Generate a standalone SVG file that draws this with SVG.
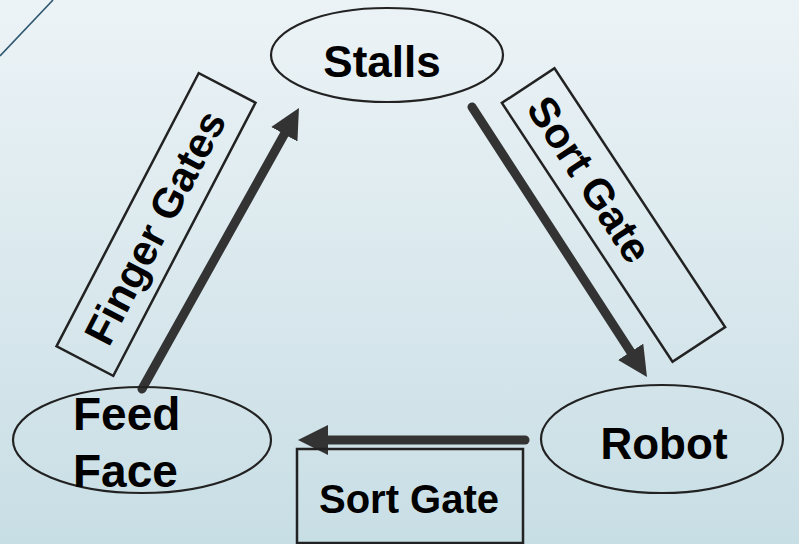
<svg xmlns="http://www.w3.org/2000/svg" width="799" height="544" viewBox="0 0 799 544">
<defs>
<linearGradient id="bg" x1="0" y1="0" x2="0" y2="1">
<stop offset="0" stop-color="#ecf3f6"/>
<stop offset="1" stop-color="#c8dee5"/>
</linearGradient>
<marker id="ah" markerUnits="userSpaceOnUse" markerWidth="30" markerHeight="30" viewBox="0 0 30 30" refX="10" refY="15" orient="auto">
<path d="M0,0 L30,15 L0,30 Z" fill="#333333"/>
</marker>
<style>
.node{fill:none;stroke:#222222;stroke-width:2.2}
.box{fill:none;stroke:#222222;stroke-width:2.5}
.lbl{font-family:"Liberation Sans",Arial,sans-serif;font-weight:bold;fill:#000000}
.conn{stroke:#333333;stroke-width:9;stroke-linecap:round;fill:none;marker-end:url(#ah)}
</style>
</defs>
<rect x="0" y="0" width="799" height="544" fill="url(#bg)"/>
<line x1="0" y1="56" x2="53" y2="0" stroke="#2e5670" stroke-width="1.6"/>

<g id="connectors">
<line class="conn" x1="142" y1="389" x2="289.2" y2="125.5"/>
<line class="conn" x1="472" y1="107" x2="636.1" y2="360.2"/>
<line class="conn" x1="525" y1="440" x2="318" y2="440"/>
</g>

<g id="label-finger-gates" transform="translate(156,224.5) rotate(-62.5)">
<rect class="box" x="-154" y="-32" width="308" height="64"/>
<text class="lbl" x="-3" y="15" font-size="42" text-anchor="middle">Finger Gates</text>
</g>
<g id="label-sort-gate-diag" transform="translate(613.5,215) rotate(56.6)">
<rect class="box" x="-155" y="-31.5" width="310" height="63"/>
<text class="lbl" x="-43" y="15" font-size="42" text-anchor="middle">Sort Gate</text>
</g>
<g id="label-sort-gate-bottom">
<rect class="box" x="297" y="449" width="226" height="94"/>
<text class="lbl" x="409" y="513" font-size="40" text-anchor="middle">Sort Gate</text>
</g>

<g id="node-stalls">
<ellipse class="node" cx="387" cy="55" rx="116" ry="47"/>
<text class="lbl" x="382" y="77" font-size="44" text-anchor="middle">Stalls</text>
</g>
<g id="node-robot">
<ellipse class="node" cx="662" cy="439" rx="121" ry="54"/>
<text class="lbl" x="664" y="459" font-size="44" text-anchor="middle">Robot</text>
</g>
<g id="node-feed-face">
<ellipse class="node" cx="142" cy="440" rx="129" ry="53"/>
<text class="lbl" x="73" y="430" font-size="46">Feed</text>
<text class="lbl" x="73" y="487" font-size="46">Face</text>
</g>
</svg>
